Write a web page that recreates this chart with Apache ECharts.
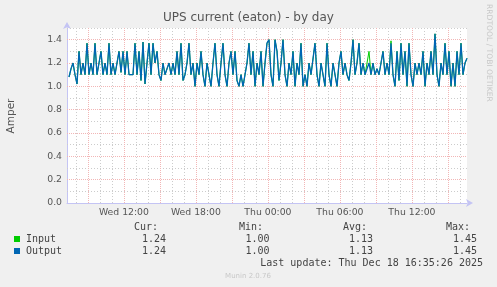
<!DOCTYPE html>
<html><head><meta charset="utf-8">
<script src="https://cdn.jsdelivr.net/npm/echarts@6/dist/echarts.min.js"></script>
<style>html,body{margin:0;padding:0;background:#f0f0f0}#c{width:497px;height:287px}</style>
</head><body><div id="c"></div>
<script>
// ---- data ----
var title = 'UPS current (eaton) - by day';
var yAxisName = 'Amper';
var startTime = Date.UTC(2025, 11, 17, 7, 15, 26); // Wed 07:15:26
var endTime = Date.UTC(2025, 11, 18, 16, 35, 26);  // Thu 16:35:26
var stepMinutes = 10;
var outputValues = [
 1.08,1.15,1.2,1.1,1.02,1.3,1.1,1.2,1.1,1.37,
 1.1,1.2,1.1,1.37,1.1,1.2,1.3,1.1,1.2,1.1,
 1.37,1.1,1.2,1.1,1.1,1.3,1.12,1.3,1.1,1.3,
 1.1,1.1,1.1,1.37,1.1,1.3,1.05,1.38,1.02,1.2,
 1.37,1.1,1.37,1.2,1.3,1.1,1.05,1.2,1.1,1.15,
 1.2,1.1,1.2,1.1,1.3,1.1,1.37,1.05,1.1,1.2,
 1.37,1.1,1.2,1.0,1.2,1.1,1.3,1.1,1.0,1.2,
 1.1,1.0,1.2,1.37,1.1,1.0,1.2,1.37,1.1,1.0,
 1.2,1.3,1.1,1.3,1.05,1.0,1.1,1.0,1.1,1.2,
 1.37,1.1,1.3,1.0,1.2,1.1,1.3,1.0,1.2,1.37,
 1.4,1.1,1.0,1.4,1.3,1.05,1.2,1.4,1.1,1.0,
 1.2,1.1,1.3,1.0,1.2,1.1,1.37,1.0,1.1,1.0,
 1.2,1.1,1.1,1.37,1.1,1.0,1.2,1.1,1.0,1.37,
 1.1,1.0,1.2,1.1,1.0,1.2,1.3,1.1,1.2,1.1,
 1.05,1.2,1.4,1.1,1.2,1.37,1.1,1.2,1.1,1.1,
 1.2,1.1,1.2,1.1,1.15,1.1,1.2,1.3,1.1,1.2,
 1.1,1.37,1.1,1.0,1.3,1.05,1.37,1.1,1.3,1.0,
 1.37,1.1,1.0,1.2,1.1,1.2,1.1,1.3,1.0,1.2,
 1.1,1.3,1.1,1.45,1.1,1.0,1.2,1.1,1.37,1.1,
 1.3,1.0,1.2,1.0,1.3,1.1,1.37,1.1,1.2,1.24
];
var inputValues = outputValues.slice();
inputValues[150] = 1.3;
inputValues[161] = 1.39;
var seriesNames = ['Input', 'Output'];
var seriesColors = ['#00cc00', '#0066b3'];
var yTicks = [0, 0.2, 0.4, 0.6, 0.8, 1.0, 1.2, 1.4];
var xTickTimes = [
 Date.UTC(2025, 11, 17, 12, 0), Date.UTC(2025, 11, 17, 18, 0),
 Date.UTC(2025, 11, 18, 0, 0), Date.UTC(2025, 11, 18, 6, 0), Date.UTC(2025, 11, 18, 12, 0)
];
var legendHeaders = ['Cur:', 'Min:', 'Avg:', 'Max:'];
var inputStats = ['1.24', '1.00', '1.13', '1.45'];
var outputStats = ['1.24', '1.00', '1.13', '1.45'];
var lastUpdate = 'Last update: Thu Dec 18 16:35:26 2025';
var footer = 'Munin 2.0.76';
var sideText = 'RRDTOOL / TOBI OETIKER';

// ---- build ----
var HOUR = 3600000;
function mkSeries(vals) {
  return vals.map(function (v, i) { return [startTime + (i + 1) * stepMinutes * 60000, v]; });
}
var dayNames = ['Sun','Mon','Tue','Wed','Thu','Fri','Sat'];
function pad(n){return (n<10?'0':'')+n;}
function fmt(t){var d=new Date(t);return dayNames[d.getUTCDay()]+' '+pad(d.getUTCHours())+':'+pad(d.getUTCMinutes());}

// grid lines
var minorX = [], majorX = [];
var firstHour = Math.ceil(startTime / HOUR) * HOUR;
for (var t = firstHour; t < endTime; t += HOUR) {
  var h = new Date(t).getUTCHours();
  if (h % 3 === 0) majorX.push({xAxis: t}); else minorX.push({xAxis: t});
}
var minorY = [], majorY = [];
for (var k = 1; k <= 15; k++) {
  var v = +(k * 0.1).toFixed(1);
  if (k % 2 === 0) majorY.push({yAxis: v}); else minorY.push({yAxis: v});
}
var dotMinor = {color: '#cccccc', type: [1, 2], width: 1};
var dotMajor = {color: '#f2b6b6', type: [1, 1], width: 1};

var chart = echarts.init(document.getElementById('c'), null, {renderer: 'canvas'});
var mono = 'DejaVu Sans Mono';
var sans = 'DejaVu Sans';
var graphics = [
  {type:'text', left: 'center', top: 12, style:{text:title, font:'12px '+sans, fill:'#555'}},
  {type:'text', x: 11, y: 116, rotation: Math.PI/2, style:{text:yAxisName, font:'10.5px '+sans, fill:'#555', align:'center', verticalAlign:'middle'}},
  {type:'text', x: 489, y: 4, rotation: -Math.PI/2, style:{text:sideText, font:'7.6px '+sans, fill:'#c8c8c8', align:'left', verticalAlign:'middle'}},
  {type:'rect', shape:{x:14,y:236,width:6,height:6}, style:{fill:seriesColors[0]}},
  {type:'rect', shape:{x:14,y:248,width:6,height:6}, style:{fill:seriesColors[1]}},
  {type:'text', x:26, y:239.5, style:{text:seriesNames[0], font:'10px '+mono, fill:'#444', verticalAlign:'middle'}},
  {type:'text', x:26, y:251.5, style:{text:seriesNames[1], font:'10px '+mono, fill:'#444', verticalAlign:'middle'}},
  {type:'text', x:483, y:263.5, style:{text:lastUpdate, font:'10px '+mono, fill:'#444', align:'right', verticalAlign:'middle'}},
  {type:'text', x:248, y:276, style:{text:footer, font:'7px '+sans, fill:'#c8c8c8', align:'center', verticalAlign:'middle'}}
];
var headerX = [158, 263, 367, 470];
var valX = [166, 269.5, 373, 477];
for (var j = 0; j < 4; j++) {
  graphics.push({type:'text', x:headerX[j], y:227.5, style:{text:legendHeaders[j], font:'10px '+mono, fill:'#444', align:'right', verticalAlign:'middle'}});
  graphics.push({type:'text', x:valX[j], y:239.5, style:{text:inputStats[j], font:'10px '+mono, fill:'#444', align:'right', verticalAlign:'middle'}});
  graphics.push({type:'text', x:valX[j], y:251.5, style:{text:outputStats[j], font:'10px '+mono, fill:'#444', align:'right', verticalAlign:'middle'}});
}

chart.setOption({
  backgroundColor: '#f0f0f0',
  animation: false,
  grid: {left: 67, right: 30, top: 28, bottom: 84, show: true, backgroundColor: '#ffffff', borderWidth: 0},
  xAxis: {
    type: 'value', min: startTime, max: endTime,
    axisLine: {show: true, lineStyle: {color: '#c4c4f4'}, symbol: ['none','arrow'], symbolSize: [6, 7], symbolOffset: [0, 6]},
    axisTick: {show: false},
    splitLine: {show: false},
    axisLabel: {customValues: xTickTimes, formatter: function(v){return fmt(v);}, color: '#555', fontFamily: sans, fontSize: 9.3, margin: 5}
  },
  yAxis: {
    type: 'value', min: 0, max: 1.5,
    axisLine: {show: true, lineStyle: {color: '#c4c4f4'}, symbol: ['none','arrow'], symbolSize: [6, 7], symbolOffset: [0, 6]},
    axisTick: {show: false},
    splitLine: {show: false},
    axisLabel: {customValues: yTicks, formatter: function(v){return v.toFixed(1);}, color: '#555', fontFamily: sans, fontSize: 9.3, margin: 5}
  },
  graphic: graphics,
  series: [
    {type:'line', data: [], z: 1, silent: true,
     markLine: {z: 1, silent: true, symbol: 'none', label:{show:false}, lineStyle: dotMinor, data: minorX.concat(minorY), animation:false}},
    {type:'line', data: [], z: 2, silent: true,
     markLine: {z: 2, silent: true, symbol: 'none', label:{show:false}, lineStyle: dotMajor, data: majorX.concat(majorY), animation:false}},
    {name: seriesNames[0], type:'line', data: mkSeries(inputValues), z: 10, showSymbol: false, symbol: 'none',
     lineStyle: {color: seriesColors[0], width: 1}},
    {name: seriesNames[1], type:'line', data: mkSeries(outputValues), z: 11, showSymbol: false, symbol: 'none',
     lineStyle: {color: seriesColors[1], width: 1.3}}
  ]
});
</script></body></html>
